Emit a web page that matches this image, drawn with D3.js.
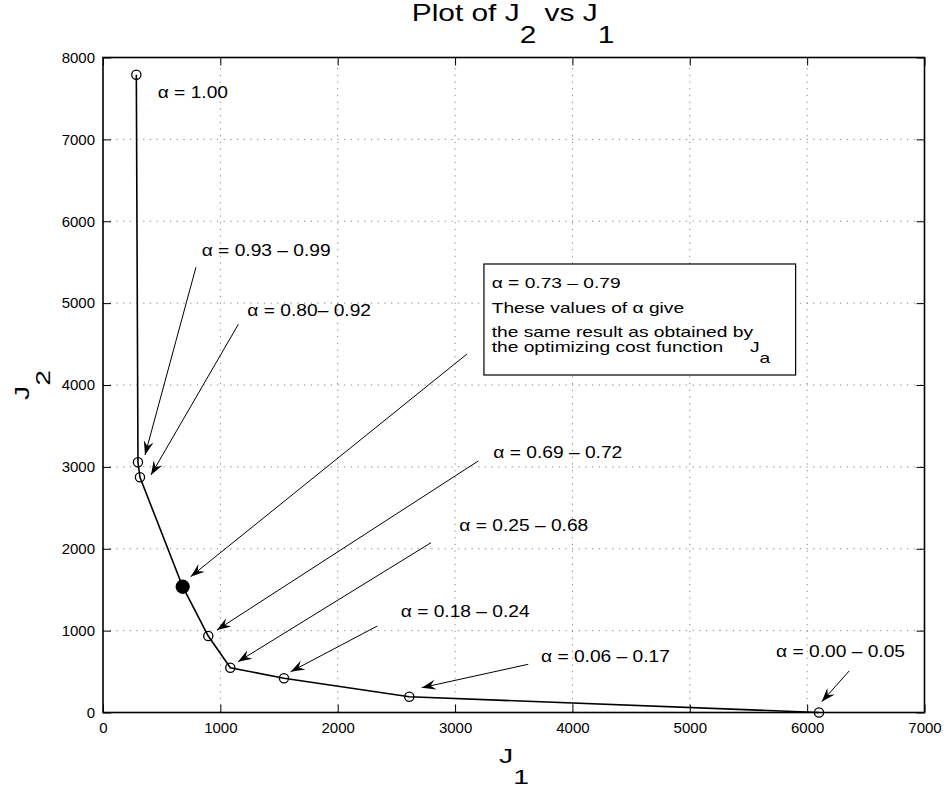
<!DOCTYPE html>
<html>
<head>
<meta charset="utf-8">
<script src="https://cdn.jsdelivr.net/npm/d3@7"></script>
<style>
  body { margin: 0; background: #fff; }
  svg text { font-family: "Liberation Sans", Arial, Helvetica, sans-serif; fill: #000; }
</style>
</head>
<body>
<script>

// J1 / J2 values of the trade-off curve
var j1 = [284, 298, 315, 679, 897, 1085, 1542, 2610, 6101];
var j2 = [7790, 3056, 2873, 1536, 934, 547, 418, 193, 0];
var filled = 3;   // the point that matches J_a

var xTicks = [0, 1000, 2000, 3000, 4000, 5000, 6000, 7000];
var yTicks = [0, 1000, 2000, 3000, 4000, 5000, 6000, 7000, 8000];

// labels: text anchor (data units), arrow start and arrow tip (data units)
var labels = ["\u03b1 = 1.00", "\u03b1 = 0.93 \u2013 0.99", "\u03b1 = 0.80\u2013 0.92",
              "\u03b1 = 0.69 \u2013 0.72", "\u03b1 = 0.25 \u2013 0.68", "\u03b1 = 0.18 \u2013 0.24",
              "\u03b1 = 0.06 \u2013 0.17", "\u03b1 = 0.00 \u2013 0.05"];
var labelAt = [[466, 7502], [841, 5576], [1230, 4843], [3326, 3112], [3036, 2217],
               [2537, 1170], [3732, 620], [5735, 682]];
var arrowFrom = [null, [792, 5438], [1153, 4741], [3198, 3072], [2795, 2074],
                 [2337, 1056], [3624, 589], [6358, 507]];
var arrowTo = [null, [358, 3145], [409, 2901], [971, 1008], [1150, 620],
               [1599, 498], [2716, 303], [6124, 132]];

// the boxed note and its arrow
var boxCorners = [[3246, 5478], [5902, 4122]];
var boxLines = ["\u03b1 = 0.73 \u2013 0.79", "These values of \u03b1 give",
                "the same result as obtained by", "the optimizing cost function"];
var boxLineAt = [[3312, 5185], [3312, 4879], [3312, 4586], [3312, 4403]];
var boxJaAt = [5513, 4403];
var boxArrowFrom = [3102, 4379];
var boxArrowTo = [747, 1659];

var svg_width = 946, svg_height = 785;
var plot_left = 103, plot_right = 924.5, plot_top = 57.5, plot_bottom = 712.5;

var svg = d3.select("body").append("svg")
    .attr("width", svg_width)
    .attr("height", svg_height);

var x_scale = d3.scaleLinear().domain([0, 7000]).range([plot_left, plot_right]);
var y_scale = d3.scaleLinear().domain([0, 8000]).range([plot_bottom, plot_top]);

// arrow head like the matlab one
svg.append("defs").append("marker")
    .attr("id", "head")
    .attr("markerUnits", "userSpaceOnUse")
    .attr("viewBox", "-15 -6 16 12")
    .attr("refX", 0).attr("refY", 0)
    .attr("markerWidth", 16).attr("markerHeight", 12)
    .attr("orient", "auto")
  .append("path")
    .attr("d", "M0,0 L-14,-5 L-9,0 L-14,5 Z")
    .attr("fill", "#000");

// text stretched wider, the original fonts run wide
function wideText(px, py, size, sx, anchor) {
  return svg.append("text")
      .attr("transform", "translate(" + px + "," + py + ") scale(" + sx + ",1)")
      .attr("text-anchor", anchor || "start")
      .style("font-size", size + "px");
}

// grid, dotted
var grid = svg.append("g").attr("stroke", "#808080").attr("stroke-width", 1)
    .attr("stroke-dasharray", "1.2,5.5");
grid.selectAll(".gx").data(xTicks.slice(1, -1)).enter().append("line")
    .attr("x1", function(d) { return x_scale(d); })
    .attr("x2", function(d) { return x_scale(d); })
    .attr("y1", plot_bottom).attr("y2", plot_top);
grid.selectAll(".gy").data(yTicks.slice(1, -1)).enter().append("line")
    .attr("y1", function(d) { return y_scale(d); })
    .attr("y2", function(d) { return y_scale(d); })
    .attr("x1", plot_left).attr("x2", plot_right);

// axes with inward ticks on all four sides
var x_axis = d3.axisBottom(x_scale).tickValues(xTicks).tickSize(-8).tickPadding(10).tickFormat(d3.format("d"));
var y_axis = d3.axisLeft(y_scale).tickValues(yTicks).tickSize(-8).tickPadding(8).tickFormat(d3.format("d"));

svg.append("g").attr("transform", "translate(0," + plot_bottom + ")").call(x_axis);
svg.append("g").attr("transform", "translate(" + plot_left + ",0)").call(y_axis);
svg.append("g").attr("transform", "translate(0," + plot_top + ")")
    .call(d3.axisTop(x_scale).tickValues(xTicks).tickSize(-8).tickFormat(""));
svg.append("g").attr("transform", "translate(" + plot_right + ",0)")
    .call(d3.axisRight(y_scale).tickValues(yTicks).tickSize(-8).tickFormat(""));

svg.selectAll(".domain").remove();
svg.selectAll(".tick line").attr("stroke", "#000").attr("stroke-width", 1);
svg.selectAll(".tick text").style("font-size", "15px")
    .style("font-family", "'Liberation Sans', Arial, sans-serif").attr("fill", "#000");

svg.append("rect")
    .attr("x", plot_left).attr("y", plot_top)
    .attr("width", plot_right - plot_left).attr("height", plot_bottom - plot_top)
    .attr("fill", "none").attr("stroke", "#000").attr("stroke-width", 1.6);

// the curve
var points = j1.map(function(d, i) { return [d, j2[i]]; });
var line = d3.line()
    .x(function(d) { return x_scale(d[0]); })
    .y(function(d) { return y_scale(d[1]); });

svg.append("path").datum(points)
    .attr("d", line)
    .attr("fill", "none")
    .attr("stroke", "#000")
    .attr("stroke-width", 1.6);

svg.selectAll(".pt").data(points).enter().append("circle")
    .attr("cx", function(d) { return x_scale(d[0]); })
    .attr("cy", function(d) { return y_scale(d[1]); })
    .attr("r", function(d, i) { return i == filled ? 6.5 : 4.6; })
    .attr("fill", function(d, i) { return i == filled ? "#000" : "none"; })
    .attr("stroke", "#000")
    .attr("stroke-width", 1.3);

// arrows
function arrow(from, to) {
  svg.append("line")
      .attr("x1", x_scale(from[0])).attr("y1", y_scale(from[1]))
      .attr("x2", x_scale(to[0])).attr("y2", y_scale(to[1]))
      .attr("stroke", "#000").attr("stroke-width", 1)
      .attr("marker-end", "url(#head)");
}

for (var i = 0; i < labels.length; i++) {
  wideText(x_scale(labelAt[i][0]), y_scale(labelAt[i][1]), 16, 1.2).text(labels[i]);
  if (arrowFrom[i]) arrow(arrowFrom[i], arrowTo[i]);
}
arrow(boxArrowFrom, boxArrowTo);

// boxed note
svg.append("rect")
    .attr("x", x_scale(boxCorners[0][0])).attr("y", y_scale(boxCorners[0][1]))
    .attr("width", x_scale(boxCorners[1][0]) - x_scale(boxCorners[0][0]))
    .attr("height", y_scale(boxCorners[1][1]) - y_scale(boxCorners[0][1]))
    .attr("fill", "#fff").attr("stroke", "#000").attr("stroke-width", 1.2);

for (var k = 0; k < boxLines.length; k++) {
  wideText(x_scale(boxLineAt[k][0]), y_scale(boxLineAt[k][1]), 15, 1.28).text(boxLines[k]);
}
var ja = wideText(x_scale(boxJaAt[0]), y_scale(boxJaAt[1]), 15, 1.28);
ja.append("tspan").text("J");
ja.append("tspan").attr("dy", 11).text("a");

// title and axis labels with subscripts
var title = wideText(411.7, 21, 23, 1.3);
title.append("tspan").text("Plot of J");
title.append("tspan").attr("dy", 22).text("2");
title.append("tspan").attr("dy", -22).text(" vs J");
title.append("tspan").attr("dy", 22).text("1");

var xl = wideText(499, 763, 21, 1.35);
xl.append("tspan").text("J");
xl.append("tspan").attr("dy", 21).text("1");

var yl = svg.append("text")
    .attr("transform", "translate(28.5,400) rotate(-90) scale(1.35,1)")
    .style("font-size", "21px");
yl.append("tspan").text("J");
yl.append("tspan").attr("dy", 22).text("2");

</script>
</body>
</html>
